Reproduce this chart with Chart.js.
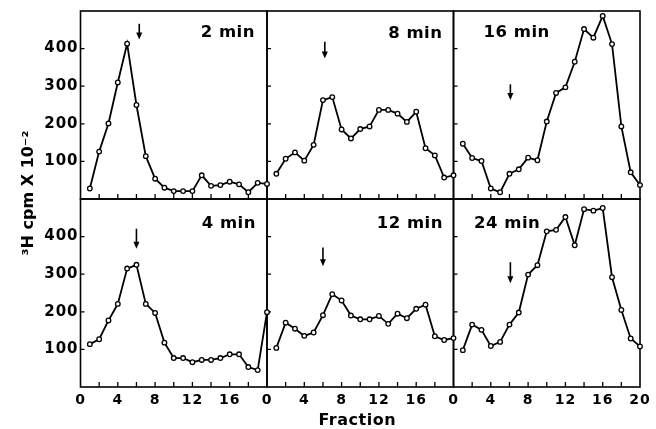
<!DOCTYPE html>
<html>
<head>
<meta charset="utf-8">
<script src="https://cdn.jsdelivr.net/npm/chart.js@4.4.0/dist/chart.umd.min.js"></script>
<style>
  html, body { margin: 0; padding: 0; background: #fff; }
  #wrap { width: 656px; height: 429px; }
</style>
</head>
<body>
<div id="wrap"><canvas id="chart"></canvas></div>
<script>
// ========================
// DATA
// ========================
const fractions = [1, 2, 3, 4, 5, 6, 7, 8, 9, 10, 11, 12, 13, 14, 15, 16, 17, 18, 19, 20];

const cpm2min  = [28, 126, 201, 310, 413, 250, 114, 54, 30, 21, 21, 21, 63, 35, 37, 46, 39, 18, 43, 40];
const cpm8min  = [67, 107, 124, 102, 144, 263, 271, 185, 161, 186, 193, 237, 237, 227, 205, 232, 135, 116, 57, 63];
const cpm16min = [147, 109, 101, 28, 18, 67, 79, 110, 103, 206, 282, 297, 365, 452, 429, 487, 412, 193, 71, 37];
const cpm4min  = [114, 127, 177, 221, 315, 325, 221, 197, 118, 77, 77, 66, 72, 72, 77, 87, 87, 53, 45, 199];
const cpm12min = [104, 171, 155, 136, 145, 191, 247, 230, 190, 180, 180, 189, 168, 195, 183, 208, 219, 135, 125, 130];
const cpm24min = [98, 166, 152, 109, 120, 166, 198, 299, 324, 414, 418, 452, 377, 473, 469, 476, 292, 205, 129, 108];

const panelLabels = ['2 min', '8 min', '16 min', '4 min', '12 min', '24 min'];

// arrow markers: fraction, top of shaft, tip (cpm x 10^-2)
const arrowFraction = [6.3, 6.2, 6.1, 6.0, 6.0, 6.1];
const arrowTop      = [466, 418, 305, 421, 371, 332];
const arrowTip      = [424, 374, 263, 368, 321, 276];

const yTickValues = [100, 200, 300, 400];
const xTickLabels = [0, 4, 8, 12, 16, 20];

// ========================
// PANELS
// ========================
const panels = [
  { values: cpm2min,  x: 'x1', y: 'yTop' },
  { values: cpm8min,  x: 'x2', y: 'yTop' },
  { values: cpm16min, x: 'x3', y: 'yTop' },
  { values: cpm4min,  x: 'x1', y: 'yBot' },
  { values: cpm12min, x: 'x2', y: 'yBot' },
  { values: cpm24min, x: 'x3', y: 'yBot' }
];

// label placement inside each panel (align, offset from edge, baseline from top)
const labelPlace = [
  ['right', 12, 26], ['right', 11, 26.5], ['left', 30, 25.5],
  ['right', 11, 29], ['right', 10.5, 29], ['left', 20.5, 29]
];

const FONT = 'DejaVu Sans';

function xAxis(i) {
  return {
    type: 'linear', position: 'bottom', stack: 'cols', stackWeight: 1, weight: i,
    min: 0, max: 20,
    grid: { display: false, drawTicks: false },
    border: { display: false },
    ticks: {
      stepSize: 2, autoSkip: false, maxRotation: 0, padding: 5, color: '#000',
      font: { family: FONT, weight: 'bold', size: 14 },
      callback: (v) => (xTickLabels.includes(v) && (v < 20 || i === 2)) ? String(v) : ''
    },
    afterFit: (s) => { s.height = 42; }
  };
}

function yAxis(w) {
  return {
    type: 'linear', position: 'left', stack: 'rows', stackWeight: 1, weight: w,
    min: 0, max: 500,
    grid: { display: false, drawTicks: false },
    border: { display: false },
    ticks: {
      stepSize: 100, autoSkip: false, padding: 2, color: '#000',
      font: { family: FONT, weight: 'bold', size: 15 },
      callback: (v) => yTickValues.includes(v) ? String(v) : ''
    },
    afterFit: (s) => { s.width = 40; }
  };
}

// frames, inner ticks, arrows, labels, axis titles
const panelDecor = {
  id: 'panelDecor',
  beforeDraw(chart) {
    chart.ctx.letterSpacing = '1px';
  },
  beforeDatasetsDraw(chart) {
    const ctx = chart.ctx;
    ctx.save();
    ctx.strokeStyle = '#000';
    ctx.lineWidth = 1.6;
    panels.forEach((p) => {
      const xs = chart.scales[p.x], ys = chart.scales[p.y];
      ctx.strokeRect(xs.left, ys.top, xs.right - xs.left, ys.bottom - ys.top);
      ctx.lineWidth = 1.3;
      ctx.beginPath();
      yTickValues.forEach((v) => {
        const py = ys.getPixelForValue(v);
        ctx.moveTo(xs.left, py);
        ctx.lineTo(xs.left + 4, py);
      });
      xs.ticks.forEach((t) => {
        if (t.value <= 0 || t.value >= 20) return;
        const px = xs.getPixelForValue(t.value);
        ctx.moveTo(px, ys.bottom);
        ctx.lineTo(px, ys.bottom - 5);
      });
      ctx.stroke();
      ctx.lineWidth = 1.6;
    });
    ctx.restore();
  },
  afterDatasetsDraw(chart) {
    const ctx = chart.ctx;
    ctx.save();
    ctx.fillStyle = '#000';
    ctx.strokeStyle = '#000';
    panels.forEach((p, i) => {
      const xs = chart.scales[p.x], ys = chart.scales[p.y];
      // arrow
      const ax = xs.getPixelForValue(arrowFraction[i]);
      const y0 = ys.getPixelForValue(arrowTop[i]);
      const y1 = ys.getPixelForValue(arrowTip[i]);
      ctx.lineWidth = 1.6;
      ctx.beginPath();
      ctx.moveTo(ax, y0);
      ctx.lineTo(ax, y1 - 5);
      ctx.stroke();
      ctx.beginPath();
      ctx.moveTo(ax - 3, y1 - 7);
      ctx.lineTo(ax + 3, y1 - 7);
      ctx.lineTo(ax, y1);
      ctx.closePath();
      ctx.fill();
      // label
      const [align, dx, dy] = labelPlace[i];
      ctx.font = 'bold 16.5px "' + FONT + '"';
      ctx.letterSpacing = '0.5px';
      ctx.textAlign = align;
      ctx.textBaseline = 'alphabetic';
      const tx = align === 'right' ? xs.right - dx : xs.left + dx;
      ctx.fillText(panelLabels[i], tx, ys.top + dy);
    });
    // x title
    const area = chart.chartArea;
    ctx.font = 'bold 16px "' + FONT + '"';
    ctx.letterSpacing = '0.5px';
    ctx.textAlign = 'center';
    ctx.textBaseline = 'alphabetic';
    ctx.fillText('Fraction', (area.left + area.right) / 2 - 3, 424.5);
    // y title
    ctx.translate(33, (area.top + area.bottom) / 2 - 6);
    ctx.rotate(-Math.PI / 2);
    ctx.font = 'bold 16px "' + FONT + '"';
    ctx.letterSpacing = '0px';
    ctx.fillText('\u00b3H cpm X 10\u207b\u00b2', 0, 0);
    ctx.restore();
  }
};

// ========================
// CHART
// ========================
const scales = {
  x1: xAxis(0), x2: xAxis(1), x3: xAxis(2),
  yTop: yAxis(1), yBot: yAxis(0)
};

const datasets = panels.map((p, i) => ({
  label: panelLabels[i],
  data: fractions.map((f, k) => ({ x: f, y: p.values[k] })),
  xAxisID: p.x,
  yAxisID: p.y,
  borderColor: '#000',
  borderWidth: 1.8,
  pointRadius: 2.3,
  pointBackgroundColor: '#fff',
  pointBorderColor: '#000',
  pointBorderWidth: 1.3,
  tension: 0,
  clip: false
}));

new Chart(document.getElementById('chart'), {
  type: 'line',
  data: { datasets },
  options: {
    responsive: true,
    maintainAspectRatio: false,
    animation: false,
    layout: { padding: { left: 40.5, right: 16, top: 9.5, bottom: 0 } },
    plugins: { legend: { display: false }, tooltip: { enabled: false } },
    scales
  },
  plugins: [panelDecor]
});
</script>
</body>
</html>
